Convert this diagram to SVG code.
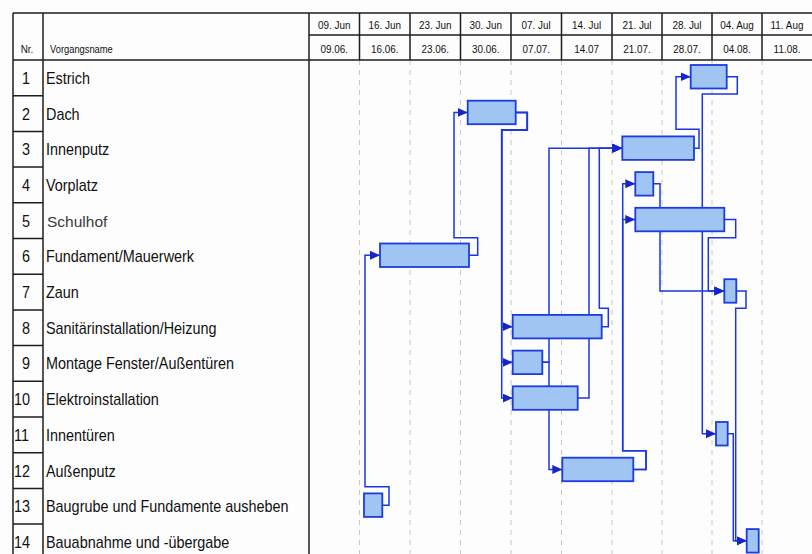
<svg xmlns="http://www.w3.org/2000/svg" width="812" height="554" viewBox="0 0 812 554">
<defs>
<marker id="arr" markerUnits="userSpaceOnUse" markerWidth="12" markerHeight="10" refX="10" refY="4.5" orient="auto">
<path d="M0,0 L10,4.5 L0,9 Z" fill="#1426c8"/>
</marker>
<style>
.tl{stroke:#1e1e1e;stroke-width:1.5;fill:none}
.gd{stroke:#c8c8c8;stroke-width:1;stroke-dasharray:5 5;fill:none}
.hd{font-family:"Liberation Sans",Arial,sans-serif;font-size:11px;fill:#111}
.nm{font-family:"Liberation Sans",Arial,sans-serif;font-size:16px;fill:#111}
.sh{font-family:"Liberation Sans",Arial,sans-serif;font-size:15.5px;fill:#3a3a3a}
.bar{fill:#a0c5f2;stroke:#1c3be0;stroke-width:1.8}
.cn{fill:none;stroke:#1b36e2;stroke-width:1.5;marker-end:url(#arr)}
</style>
</defs>
<rect width="812" height="554" fill="#fdfdfd"/>

<!-- grid -->
<g id="grid">
<path class="gd" d="M359.5,60V554M410,60V554M460.5,60V554M511,60V554M561.5,60V554M612,60V554M662,60V554M712,60V554M762,60V554"/>
</g>

<!-- table -->
<g id="table">
<path class="tl" d="M13,13H812M309,35H812M13,60H812"/>
<path class="tl" d="M13,13V554M43,13V554M309,13V554"/>
<path class="tl" d="M359.5,13V60M410,13V60M460.5,13V60M511,13V60M561.5,13V60M612,13V60M662,13V60M712,13V60M762,13V60"/>
<path class="tl" d="M13,95.7H43M13,131.4H43M13,167.1H43M13,202.8H43M13,238.5H43M13,274.2H43M13,309.9H43M13,345.6H43M13,381.3H43M13,417H43M13,452.7H43M13,488.4H43M13,524.1H43"/>
<text class="hd" text-anchor="middle" transform="translate(27,53) scale(0.9,1)">Nr.</text>
<text class="hd" transform="translate(50,53) scale(0.85,1)">Vorgangsname</text>
<g text-anchor="middle">
<text class="hd" transform="translate(334.2,29) scale(0.9,1)">09. Jun</text>
<text class="hd" transform="translate(384.7,29) scale(0.9,1)">16. Jun</text>
<text class="hd" transform="translate(435.2,29) scale(0.9,1)">23. Jun</text>
<text class="hd" transform="translate(485.7,29) scale(0.9,1)">30. Jun</text>
<text class="hd" transform="translate(536.2,29) scale(0.9,1)">07. Jul</text>
<text class="hd" transform="translate(586.7,29) scale(0.9,1)">14. Jul</text>
<text class="hd" transform="translate(637,29) scale(0.9,1)">21. Jul</text>
<text class="hd" transform="translate(687,29) scale(0.9,1)">28. Jul</text>
<text class="hd" transform="translate(737,29) scale(0.9,1)">04. Aug</text>
<text class="hd" transform="translate(787,29) scale(0.9,1)">11. Aug</text>
<text class="hd" transform="translate(334.2,52.5) scale(0.9,1)">09.06.</text>
<text class="hd" transform="translate(384.7,52.5) scale(0.9,1)">16.06.</text>
<text class="hd" transform="translate(435.2,52.5) scale(0.9,1)">23.06.</text>
<text class="hd" transform="translate(485.7,52.5) scale(0.9,1)">30.06.</text>
<text class="hd" transform="translate(536.2,52.5) scale(0.9,1)">07.07.</text>
<text class="hd" transform="translate(586.7,52.5) scale(0.9,1)">14.07</text>
<text class="hd" transform="translate(637,52.5) scale(0.9,1)">21.07.</text>
<text class="hd" transform="translate(687,52.5) scale(0.9,1)">28.07.</text>
<text class="hd" transform="translate(737,52.5) scale(0.9,1)">04.08.</text>
<text class="hd" transform="translate(787,52.5) scale(0.9,1)">11.08.</text>
</g>
</g>

<!-- connectors -->
<g id="connectors">
<path class="cn" d="M382.3,505.15H389V486.7H365V255.25H380"/>
<path class="cn" d="M469,255.25H477.7V237.7H454V112.45H467.7"/>
<path class="cn" d="M515.7,112.45H527.3V130H501.7V326.65H512.7"/>
<path class="cn" d="M515.7,112.45H527.3V130H501.7V362.35H512.7"/>
<path class="cn" d="M515.7,112.45H527.3V130H501.7V398.05H512.7"/>
<path class="cn" d="M601.7,326.65H608.3V308.3H599.3V148.15H622.3"/>
<path class="cn" d="M577.7,398.05H589V148.15H622.3"/>
<path class="cn" d="M542.3,362.35H549V148.15H622.3"/>
<path class="cn" d="M542.3,362.35H549V469.45H562.3"/>
<path class="cn" d="M633.3,469.45H646V450.7H622.7V183.85H635.3"/>
<path class="cn" d="M633.3,469.45H646V450.7H622.7V219.55H635.3"/>
<path class="cn" d="M694,148.15H699V129.3H676V76.75H690.7"/>
<path class="cn" d="M726.7,76.75H737.3V94H702.3V433.75H716"/>
<path class="cn" d="M724.3,219.55H735.7V237.7H708.3V290.95H724.3"/>
<path class="cn" d="M653.3,183.85H660V290.95H724.3"/>
<path class="cn" d="M736.3,290.95H746V308.3H735.7V540.85H746.7"/>
<path class="cn" d="M727.7,433.75H733.3V540.85H746.7"/>
</g>

<!-- tasks -->
<g id="task1"><text class="nm" text-anchor="middle" transform="translate(26,83.8) scale(0.9,1)">1</text><text class="nm" transform="translate(46,83.8) scale(0.9,1)">Estrich</text><rect class="bar" x="690.7" y="65" width="36" height="23.5"/></g>
<g id="task2"><text class="nm" text-anchor="middle" transform="translate(26,119.5) scale(0.9,1)">2</text><text class="nm" transform="translate(46,119.5) scale(0.9,1)">Dach</text><rect class="bar" x="467.7" y="100.7" width="48" height="23.5"/></g>
<g id="task3"><text class="nm" text-anchor="middle" transform="translate(26,155.2) scale(0.9,1)">3</text><text class="nm" transform="translate(46,155.2) scale(0.9,1)">Innenputz</text><rect class="bar" x="622.3" y="136.4" width="71.7" height="23.5"/></g>
<g id="task4"><text class="nm" text-anchor="middle" transform="translate(26,190.9) scale(0.9,1)">4</text><text class="nm" transform="translate(46,190.9) scale(0.9,1)">Vorplatz</text><rect class="bar" x="635.3" y="172.1" width="18" height="23.5"/></g>
<g id="task5"><text class="nm" text-anchor="middle" transform="translate(26,226.6) scale(0.9,1)">5</text><text class="sh" x="47" y="226.6">Schulhof</text><rect class="bar" x="635.3" y="207.8" width="89" height="23.5"/></g>
<g id="task6"><text class="nm" text-anchor="middle" transform="translate(26,262.3) scale(0.9,1)">6</text><text class="nm" transform="translate(46,262.3) scale(0.9,1)">Fundament/Mauerwerk</text><rect class="bar" x="380" y="243.5" width="89" height="23.5"/></g>
<g id="task7"><text class="nm" text-anchor="middle" transform="translate(26,298) scale(0.9,1)">7</text><text class="nm" transform="translate(46,298) scale(0.9,1)">Zaun</text><rect class="bar" x="724.3" y="279.2" width="12" height="23.5"/></g>
<g id="task8"><text class="nm" text-anchor="middle" transform="translate(26,333.7) scale(0.9,1)">8</text><text class="nm" transform="translate(46,333.7) scale(0.9,1)">Sanitärinstallation/Heizung</text><rect class="bar" x="512.7" y="314.9" width="89" height="23.5"/></g>
<g id="task9"><text class="nm" text-anchor="middle" transform="translate(26,369.4) scale(0.9,1)">9</text><text class="nm" transform="translate(46,369.4) scale(0.9,1)">Montage Fenster/Außentüren</text><rect class="bar" x="512.7" y="350.6" width="29.6" height="23.5"/></g>
<g id="task10"><text class="nm" transform="translate(14,405.1) scale(0.9,1)">10</text><text class="nm" transform="translate(46,405.1) scale(0.9,1)">Elektroinstallation</text><rect class="bar" x="512.7" y="386.3" width="65" height="23.5"/></g>
<g id="task11"><text class="nm" transform="translate(14,440.8) scale(0.9,1)">11</text><text class="nm" transform="translate(46,440.8) scale(0.9,1)">Innentüren</text><rect class="bar" x="716" y="422" width="11.7" height="23.5"/></g>
<g id="task12"><text class="nm" transform="translate(14,476.5) scale(0.9,1)">12</text><text class="nm" transform="translate(46,476.5) scale(0.9,1)">Außenputz</text><rect class="bar" x="562.3" y="457.7" width="71" height="23.5"/></g>
<g id="task13"><text class="nm" transform="translate(14,512.2) scale(0.9,1)">13</text><text class="nm" transform="translate(46,512.2) scale(0.9,1)">Baugrube und Fundamente ausheben</text><rect class="bar" x="364" y="493.4" width="18.3" height="23.5"/></g>
<g id="task14"><text class="nm" transform="translate(14,547.9) scale(0.9,1)">14</text><text class="nm" transform="translate(46,547.9) scale(0.9,1)">Bauabnahme und -übergabe</text><rect class="bar" x="746.7" y="529.1" width="12" height="23.5"/></g>
</svg>
